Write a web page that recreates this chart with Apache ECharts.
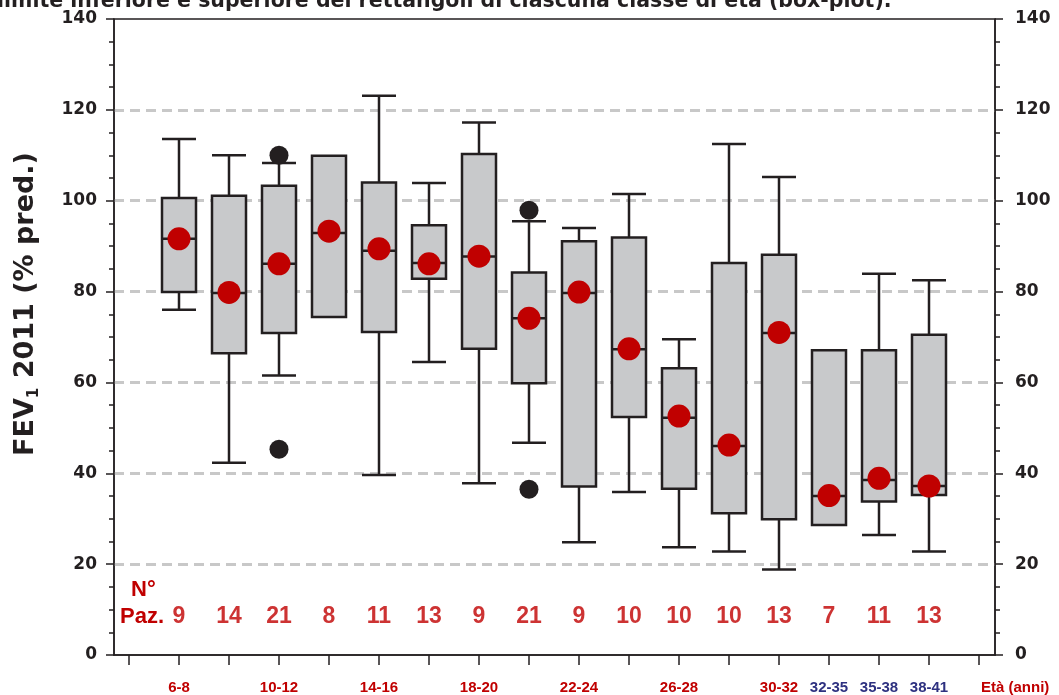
<!DOCTYPE html>
<html>
<head>
<meta charset="utf-8">
<script src="https://cdn.jsdelivr.net/npm/echarts@6/dist/echarts.min.js"></script>
<style>
    html, body { margin: 0; padding: 0; background: #fff; }
    #chart { width: 1059px; height: 695px; }
</style>
</head>
<body>
<div id="chart"></div>
<script>
// age classes, one per box (x = 1..16)
var ageClasses = ['6-8', '8-10', '10-12', '12-14', '14-16', '16-18', '18-20', '20-22',
    '22-24', '24-26', '26-28', '28-30', '30-32', '32-35', '35-38', '38-41'];
var labelledClasses = [1, 3, 5, 7, 9, 11, 13, 14, 15, 16];
var blueClasses = [14, 15, 16];

// FEV1 % pred. : whisker low, Q1, median, Q3, whisker high
var whiskerLow = [76.0, 42.3, 61.5, 74.4, 39.6, 64.5, 37.8, 46.7, 24.8, 35.9, 23.7, 22.8, 18.8, 28.6, 26.4, 22.8];
var q1 = [79.9, 66.4, 70.9, 74.4, 71.1, 82.8, 67.4, 59.8, 37.1, 52.4, 36.6, 31.2, 29.9, 28.6, 33.8, 35.2];
var median = [91.6, 79.7, 86.1, 92.9, 89.0, 86.3, 87.7, 74.1, 79.7, 67.3, 52.2, 46.0, 70.9, 35.0, 38.5, 37.2];
var q3 = [100.6, 101.1, 103.3, 109.9, 104.0, 94.6, 110.3, 84.2, 91.1, 91.9, 63.1, 86.3, 88.1, 67.1, 67.1, 70.5];
var whiskerHigh = [113.6, 110.0, 108.3, 109.9, 123.1, 103.9, 117.2, 95.5, 94.0, 101.5, 69.5, 112.5, 105.2, 67.1, 83.9, 82.5];
var means = [91.6, 79.8, 86.1, 93.3, 89.4, 86.1, 87.8, 74.1, 79.9, 67.4, 52.6, 46.2, 71.0, 35.1, 38.9, 37.2];
// outliers: [class position, value]
var outliers = [[3, 110.0], [3, 45.3], [8, 97.9], [8, 36.5]];
// number of patients per class
var patients = [9, 14, 21, 8, 11, 13, 9, 21, 9, 10, 10, 10, 13, 7, 11, 13];

var yTicks = [0, 20, 40, 60, 80, 100, 120, 140];

var ink = '#231f20';
var red = '#c00000';
var blue = '#2e3180';
var font = '"Liberation Sans", Arial, sans-serif';
var wideFont = '"DejaVu Sans", Verdana, sans-serif';

var boxData = [];
var meanData = [];
var countData = [];
for (var i = 0; i < ageClasses.length; i++) {
    boxData.push([i + 1, whiskerLow[i], q1[i], median[i], q3[i], whiskerHigh[i]]);
    meanData.push([i + 1, means[i]]);
    countData.push([i + 1, 8.4, patients[i]]);
}

function yAxisDef(pos) {
    return {
        type: 'value',
        position: pos,
        min: yTicks[0],
        max: yTicks[yTicks.length - 1],
        interval: 20,
        axisLine: {show: true, onZero: false, lineStyle: {color: ink, width: 1.5}},
        axisTick: {show: true, inside: false, length: 8, lineStyle: {color: ink, width: 1.5}},
        minorTick: {show: true, splitNumber: 4, length: 5, lineStyle: {color: ink, width: 1.5}},
        axisLabel: {
            margin: pos === 'left' ? 17 : 20,
            fontFamily: wideFont, fontWeight: 'bold', fontSize: 17, color: ink
        },
        splitLine: {
            show: pos === 'left',
            showMinLine: false,
            showMaxLine: false,
            lineStyle: {color: '#c8c8c8', width: 3, type: [10, 6]}
        }
    };
}

var chart = echarts.init(document.getElementById('chart'), null, {renderer: 'canvas'});
var option = {
    animation: false,
    backgroundColor: '#fff',
    title: {
        text: 'limite inferiore e superiore dei rettangoli di ciascuna classe di età (box-plot).',
        left: -8,
        top: -14,
        textStyle: {fontFamily: wideFont, fontWeight: 'bold', fontSize: 20.5, color: ink}
    },
    grid: {
        left: 114, right: 64, top: 19, bottom: 40,
        show: true, borderColor: ink, borderWidth: 1.5, backgroundColor: 'transparent'
    },
    xAxis: {
        type: 'value',
        min: -0.3,
        max: 17.32,
        name: 'Età (anni)',
        nameLocation: 'end',
        nameGap: -14,
        nameTextStyle: {
            fontFamily: font, fontWeight: 'bold', fontSize: 15, color: red,
            verticalAlign: 'top', align: 'left', padding: [25, 0, 0, 0]
        },
        axisLine: {show: true, onZero: false, lineStyle: {color: ink, width: 1.5}},
        axisTick: {
            show: true, length: 10, lineStyle: {color: ink, width: 1.5},
            customValues: [0, 1, 2, 3, 4, 5, 6, 7, 8, 9, 10, 11, 12, 13, 14, 15, 16, 17]
        },
        axisLabel: {
            show: true,
            margin: 25,
            customValues: labelledClasses,
            formatter: function (v) {
                var k = Math.round(v);
                var style = blueClasses.indexOf(k) >= 0 ? 'b' : 'r';
                return '{' + style + '|' + ageClasses[k - 1] + '}';
            },
            rich: {
                r: {fontFamily: font, fontWeight: 'bold', fontSize: 15, color: red},
                b: {fontFamily: font, fontWeight: 'bold', fontSize: 15, color: blue}
            }
        },
        splitLine: {show: false}
    },
    yAxis: [yAxisDef('left'), yAxisDef('right')],
    graphic: [
        {
            type: 'text', x: 26, y: 304, rotation: Math.PI / 2, z: 10,
            style: {
                text: '{a|FEV}{s|1}{a| 2011 (% pred.)}',
                align: 'center', verticalAlign: 'middle',
                rich: {
                    a: {fontFamily: wideFont, fontWeight: 'bold', fontSize: 27, fill: ink, lineHeight: 32},
                    s: {fontFamily: wideFont, fontWeight: 'bold', fontSize: 15, fill: ink, lineHeight: 32, verticalAlign: 'bottom', padding: [14, 0, 0, 0]}
                }
            }
        },
        {type: 'text', left: 131, top: 579, style: {text: 'N°', fontFamily: font, fontWeight: 'bold', fontSize: 22, fill: red}, z: 10},
        {type: 'text', left: 120, top: 606, style: {text: 'Paz.', fontFamily: font, fontWeight: 'bold', fontSize: 22, fill: red}, z: 10}
    ],
    series: [
        {
            name: 'box',
            type: 'boxplot',
            data: boxData,
            boxWidth: [34, 34],
            itemStyle: {color: '#c8c9cb', borderColor: ink, borderWidth: 2.5},
            z: 3
        },
        {
            name: 'media',
            type: 'scatter',
            data: meanData,
            symbol: 'circle',
            symbolSize: 23,
            itemStyle: {color: red, opacity: 1},
            z: 5
        },
        {
            name: 'outlier',
            type: 'scatter',
            data: outliers,
            symbol: 'circle',
            symbolSize: 19,
            itemStyle: {color: ink, opacity: 1},
            z: 5
        },
        {
            name: 'N° Paz.',
            type: 'scatter',
            data: countData,
            symbolSize: 0,
            silent: true,
            label: {
                show: true,
                position: 'inside',
                formatter: function (p) { return p.data[2]; },
                fontFamily: font, fontWeight: 'bold', fontSize: 23, color: red
            },
            z: 6
        }
    ]
};
chart.setOption(option);
</script>
</body>
</html>
